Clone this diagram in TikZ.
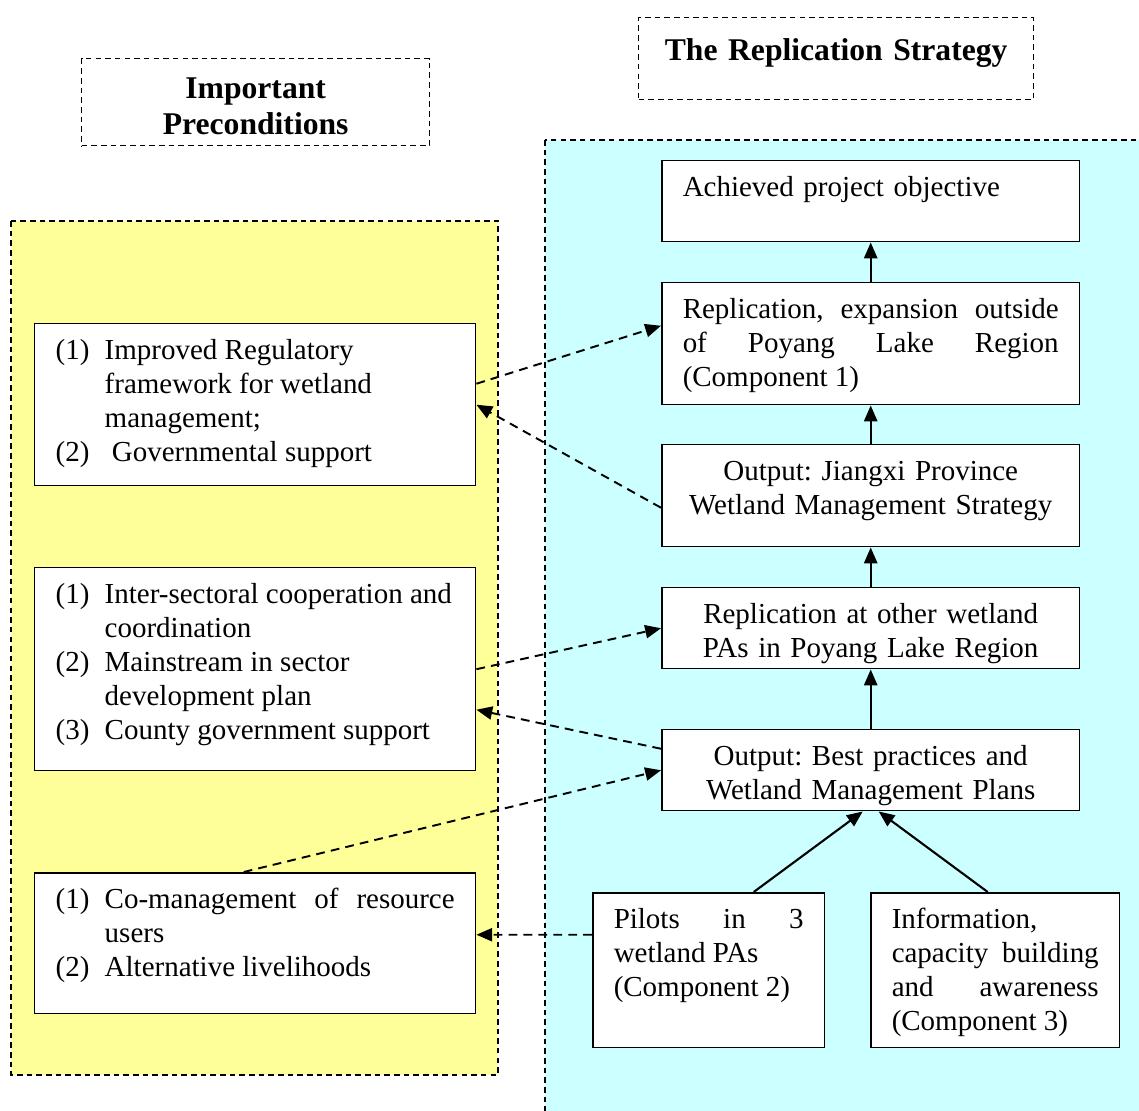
\documentclass[tikz,border=0pt]{standalone}
\usepackage{fontspec}
\setmainfont{Liberation Serif}
\usetikzlibrary{arrows.meta}
\frenchspacing

\definecolor{precondyellow}{HTML}{FFFF99}
\definecolor{strategycyan}{HTML}{CCFFFF}

% one numbered precondition, hanging indent
\newcommand{\precond}[2]{\hangindent=0.98cm\hangafter=1\makebox[0.98cm][l]{#1}#2\par}

\tikzset{
	panel/.style={draw, dash pattern=on 3.2pt off 2.3pt, line width=0.8pt},
	titlebox/.style={draw, dash pattern=on 3.2pt off 2.3pt, line width=0.8pt, anchor=north west, inner sep=0pt, align=center, text height=0.85cm, font=\fontsize{18}{20.5}\selectfont\bfseries},
	stagebox/.style={draw, fill=white, line width=0.85pt, anchor=north west, inner xsep=0.42cm, inner ysep=0pt, text height=0.72cm, font=\fontsize{16.5}{19.35}\selectfont},
	link/.style={-{Triangle[length=9pt,width=7.5pt]}, line width=1.2pt},
	dashlink/.style={-{Triangle[length=9pt,width=7.5pt]}, line width=1.1pt, dash pattern=on 5pt off 3.5pt}
}

\begin{document}
\begin{tikzpicture}[x=0.02cm, y=-0.02cm]
	\useasboundingbox (0,0) rectangle (1139,1111);
	\clip (0,0) rectangle (1139,1111);
	\draw[panel, fill=precondyellow] (11,221) rectangle (498,1075);
	\draw[panel, fill=strategycyan] (545,140) rectangle (1160,1130);

	\node[titlebox, text width=6.96cm, text height=0.79cm, text depth=0.95cm] (pretitle) at (81,58) {Important\\Preconditions};
	\node[titlebox, text width=7.9cm, text depth=0.79cm] (strattitle) at (638,17) {The Replication Strategy};

	\node[stagebox, align=left, text width=7.52cm, text depth=0.9cm] (objective) at (661,160) {Achieved project objective};
	\node[stagebox, align=justify, text width=7.52cm, text depth=1.72cm] (replout) at (661,282) {Replication, expansion outside\linebreak of Poyang Lake Region\linebreak (Component 1)};
	\node[stagebox, align=center, text width=7.52cm, text depth=1.32cm] (jiangxi) at (661,444) {Output: Jiangxi Province\\ Wetland Management Strategy};
	\node[stagebox, align=center, text width=7.52cm, text depth=0.9cm] (replin) at (661,587) {Replication at other wetland\\ PAs in Poyang Lake Region};
	\node[stagebox, align=center, text width=7.52cm, text depth=0.9cm] (bestprac) at (661,729) {Output: Best practices and\\ Wetland Management Plans};
	\node[stagebox, align=justify, text width=3.8cm, text depth=2.38cm] (pilots) at (592,892) {Pilots in 3\linebreak wetland PAs\\ (Component 2)};
	\node[stagebox, align=justify, text width=4.14cm, text depth=2.38cm] (capacity) at (870,892) {Information,\\ capacity building\linebreak and awareness\linebreak (Component 3)};

	\node[stagebox, align=justify, text width=7.98cm, text depth=2.52cm] (regul) at (34,323) {\precond{(1)}{Improved Regulatory\\ framework for wetland\\ management;}\precond{(2)}{\ Governmental support}};
	\node[stagebox, align=justify, text width=7.98cm, text depth=3.34cm] (sector) at (34,567) {\precond{(1)}{Inter-sectoral cooperation and\\ coordination}\precond{(2)}{Mainstream in sector\\ development plan}\precond{(3)}{County government support}};
	\node[stagebox, align=justify, text width=7.98cm, text depth=2.1cm] (comgmt) at (34,872) {\precond{(1)}{Co-management of resource\linebreak users}\precond{(2)}{Alternative livelihoods}};

	\draw[link] (replout) -- (objective);
	\draw[link] (jiangxi) -- (replout);
	\draw[link] (replin) -- (jiangxi);
	\draw[link] (bestprac) -- (replin);
	\draw[link] ([xshift=0.9cm]pilots.north) -- ([xshift=-0.16cm]bestprac.south);
	\draw[link] ([xshift=-0.15cm]capacity.north) -- ([xshift=0.16cm]bestprac.south);

	\draw[dashlink] ([yshift=0.42cm]regul.east) -- ([yshift=0.36cm]replout.west);
	\draw[dashlink] ([yshift=-0.24cm]jiangxi.west) -- (regul.east);
	\draw[dashlink] (sector.east) -- (replin.west);
	\draw[dashlink] ([yshift=0.43cm]bestprac.west) -- ([yshift=-0.81cm]sector.east);
	\draw[dashlink] ([xshift=-0.23cm]comgmt.north) -- (bestprac.west);
	\draw[dashlink] ([yshift=0.71cm]pilots.west) -- ([yshift=0.17cm]comgmt.east);
\end{tikzpicture}
\end{document}
